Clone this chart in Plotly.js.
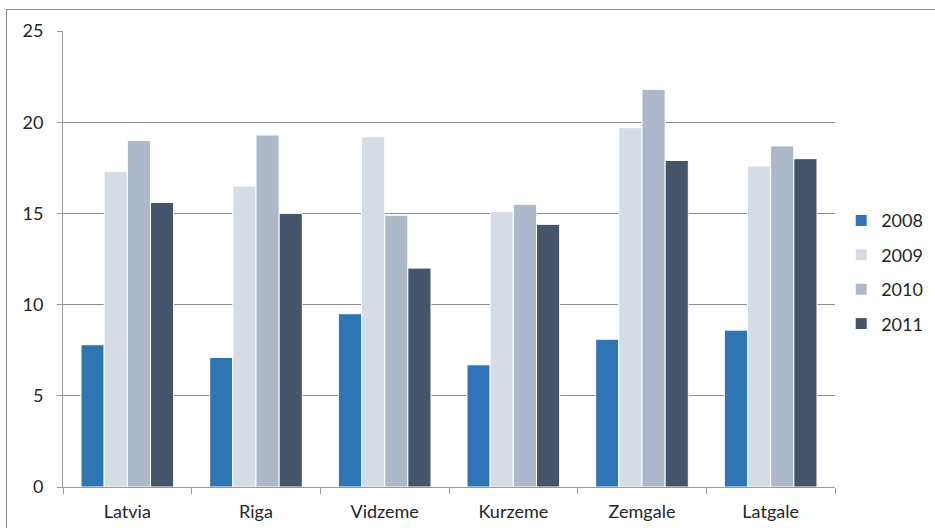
<!DOCTYPE html>
<html>
<head>
<meta charset="utf-8">
<script src="https://cdn.plot.ly/plotly-3.0.1.min.js"></script>
<style>
  html, body { margin: 0; padding: 0; background: #fff; }
  #wrap { position: relative; width: 935px; height: 528px; overflow: hidden; }
  #frame { position: absolute; left: 6px; top: 9px; width: 1000px; height: 600px;
           border-left: 1px solid #8c8c8c; border-top: 1px solid #8c8c8c; pointer-events: none; }
  #chart { position: absolute; left: 0; top: 0; width: 935px; height: 528px; }
</style>
</head>
<body>
<div id="wrap">
  <div id="chart"></div>
  <div id="frame"></div>
</div>
<script>
// Regions
const regions = ['Latvia', 'Riga', 'Vidzeme', 'Kurzeme', 'Zemgale', 'Latgale'];

// Values per year
const years = ['2008', '2009', '2010', '2011'];
const v2008 = [7.8, 7.1, 9.5, 6.7, 8.1, 8.6];
const v2009 = [17.3, 16.5, 19.2, 15.1, 19.7, 17.6];
const v2010 = [19.0, 19.3, 14.9, 15.5, 21.8, 18.7];
const v2011 = [15.6, 15.0, 12.0, 14.4, 17.9, 18.0];
const yTicks = [0, 5, 10, 15, 20, 25];

const series = [v2008, v2009, v2010, v2011];
const colors = ['#2E75B6', '#D6DCE5', '#ADB9CA', '#44546A'];

const fontFamily = 'Lato, Open Sans, sans-serif';

const traces = series.map((vals, i) => ({
  type: 'bar',
  name: years[i],
  x: regions,
  y: vals,
  legendgroup: years[i],
  marker: { color: colors[i], line: { color: '#ffffff', width: 1 } },
  hoverinfo: 'x+y+name'
}));

const layout = {
  width: 935,
  height: 528,
  margin: { l: 63, r: 100, t: 31, b: 41, autoexpand: false },
  paper_bgcolor: 'rgba(0,0,0,0)',
  plot_bgcolor: '#ffffff',
  barmode: 'group',
  bargap: 0.28,
  bargroupgap: 0,
  font: { family: fontFamily, size: 18, color: '#262626' },
  xaxis: {
    type: 'category',
    tickson: 'boundaries',
    ticks: 'outside',
    ticklen: 6,
    tickcolor: '#9a9a9a',
    showline: true,
    linecolor: '#9a9a9a',
    linewidth: 1,
    showgrid: false,
    ticklabelstandoff: 8,
    tickfont: { family: fontFamily, size: 18, color: '#262626' }
  },
  yaxis: {
    range: [0, 25],
    tickvals: yTicks,
    ticks: 'outside',
    ticklen: 5,
    tickcolor: '#9a9a9a',
    showline: true,
    linecolor: '#9a9a9a',
    linewidth: 1,
    showgrid: true,
    gridcolor: '#8c8c8c',
    gridwidth: 1,
    zeroline: false,
    ticklabelstandoff: 10,
    tickfont: { family: fontFamily, size: 18, color: '#262626' }
  },
  showlegend: true,
  legend: {
    x: 1.008,
    xanchor: 'left',
    y: 0.471,
    yanchor: 'middle',
    traceorder: 'grouped',
    tracegroupgap: 8,
    font: { family: fontFamily, size: 18, color: '#262626' },
    bgcolor: 'rgba(0,0,0,0)'
  }
};

Plotly.newPlot('chart', traces, layout, { displayModeBar: false, staticPlot: true });
</script>
</body>
</html>
